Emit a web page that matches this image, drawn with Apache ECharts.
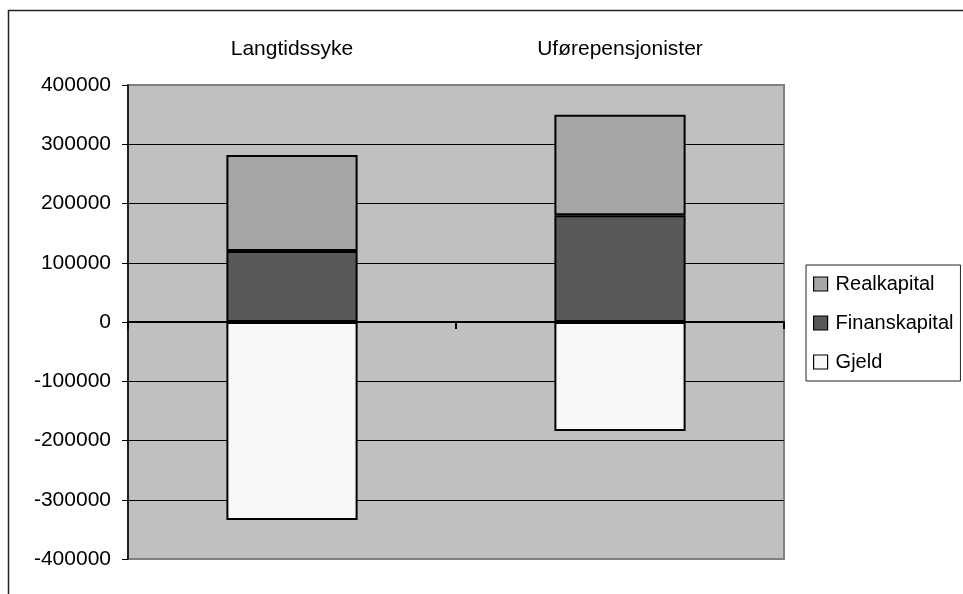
<!DOCTYPE html>
<html>
<head>
<meta charset="utf-8">
<script src="https://cdn.jsdelivr.net/npm/echarts@6/dist/echarts.min.js"></script>
<style>
html,body{margin:0;padding:0;background:#fff;}
#chart{width:963px;height:594px;}
</style>
</head>
<body>
<div id="chart"></div>
<script>
const categories = ['Langtidssyke', 'Uførepensjonister'];
const finanskapital = [120000, 180000];
const realkapital = [162000, 170000];
const gjeld = [-334000, -184000];
const yMin = -400000, yMax = 400000, yStep = 100000;

const chart = echarts.init(document.getElementById('chart'));
const font = 'Liberation Sans, Arial, sans-serif';
const barBorder = {borderColor: '#000', borderWidth: 2};

chart.setOption({
  animation: false,
  backgroundColor: '#fff',
  graphic: [{
    type: 'rect',
    shape: {x: 8.5, y: 10.5, width: 1100, height: 800},
    style: {fill: 'none', stroke: '#222', lineWidth: 1.5},
    z: 0
  }],
  grid: {
    left: 128, top: 85, width: 656, height: 474,
    show: true, backgroundColor: '#C0C0C0',
    borderColor: '#808080', borderWidth: 2
  },
  legend: {
    orient: 'vertical',
    left: 806, top: 265,
    padding: [9, 7, 9, 7],
    borderColor: '#222', borderWidth: 1,
    icon: 'rect',
    itemWidth: 14, itemHeight: 14, itemGap: 19,
    textStyle: {fontFamily: font, fontSize: 20, color: '#000', padding: [0,0,0,3]},
    itemStyle: {borderColor: '#000', borderWidth: 1.2},
    data: ['Realkapital', 'Finanskapital', 'Gjeld']
  },
  xAxis: [{
    type: 'category',
    data: categories,
    position: 'bottom',
    axisLine: {onZero: true, lineStyle: {color: '#000', width: 2}},
    axisTick: {show: true, length: 7, lineStyle: {color: '#000', width: 2}},
    axisLabel: {show: false},
    splitLine: {show: false}
  }, {
    type: 'category',
    data: categories,
    position: 'top',
    axisLine: {show: false, onZero: false},
    axisTick: {show: false},
    axisLabel: {fontFamily: font, fontSize: 21, color: '#000', margin: 25},
    splitLine: {show: false}
  }],
  yAxis: {
    type: 'value',
    min: yMin, max: yMax, interval: yStep,
    axisLine: {show: true, lineStyle: {color: '#000', width: 1.5}},
    axisTick: {show: true, length: 6, lineStyle: {color: '#000'}},
    axisLabel: {fontFamily: font, fontSize: 21, color: '#000', margin: 17,
      formatter: v => String(v)},
    splitLine: {show: true, showMinLine: false, showMaxLine: false, lineStyle: {color: '#000', width: 1}}
  },
  series: [{
    name: 'Finanskapital', type: 'bar', stack: 'total', data: finanskapital,
    barWidth: '40%', itemStyle: Object.assign({color: '#595959'}, barBorder)
  }, {
    name: 'Realkapital', type: 'bar', stack: 'total', data: realkapital,
    barWidth: '40%', itemStyle: Object.assign({color: '#A6A6A6'}, barBorder)
  }, {
    name: 'Gjeld', type: 'bar', stack: 'total', data: gjeld,
    barWidth: '40%', itemStyle: Object.assign({color: '#F8F8F8'}, barBorder)
  }]
});
</script>
</body>
</html>
